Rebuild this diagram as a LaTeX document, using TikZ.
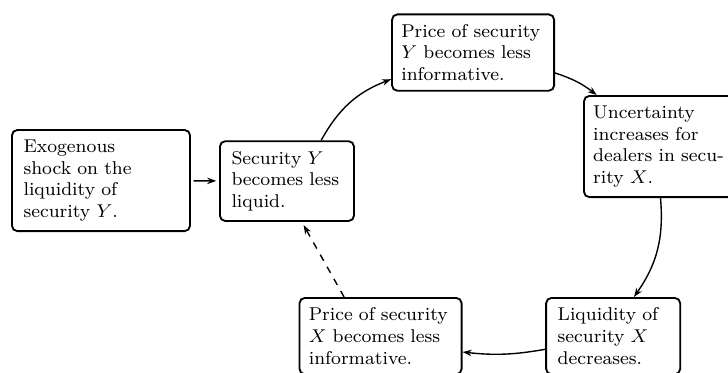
\documentclass[tikz,border=0pt]{standalone}
\usetikzlibrary{arrows.meta}
\tikzset{
        box/.style={draw=black, line width=0.8pt, rounded corners=2.3pt, align=left, inner xsep=5pt, inner ysep=4.3pt, font=\fontsize{8}{9.33}\selectfont},
        widebox/.style={box, text width=62pt, inner xsep=4pt},
        narrowbox/.style={box, text width=47.9pt},
        shockbox/.style={box, text width=66.9pt},
        link/.style={-{Stealth[length=3.9pt,width=2.8pt]}, line width=0.6pt},
        weaklink/.style={link, dashed},
        short/.style={shorten <=1.2pt, shorten >=1.2pt}
          }
\begin{document}
\begin{tikzpicture}[x=0.7775pt, y=0.7775pt]
        \useasboundingbox (0,0) rectangle (404.4,206.7);
        \node[shockbox] (shock) at (56.1,106.4) {Exogenous\\ shock on the\\ liquidity of\\ security $Y$.};
        \node[narrowbox] (liqY) at (159.4,106.1) {Security $Y$\\ becomes less\\ liquid.};
        \node[widebox] (infoY) at (262.8,177.5) {Price of security\\ $Y$ becomes less\\ informative.};
        \node[widebox] (risk) at (369.4,125.3) {Uncertainty\\ increases for\\ dealers in secu-\\ rity $X$.};
        \node[narrowbox] (liqX) at (340.6,20) {Liquidity of\\ security $X$\\ decreases.};
        \node[widebox] (infoX) at (211.4,20) {Price of security\\ $X$ becomes less\\ informative.};
        \draw[link, short] (shock) -- (liqY);
        \draw[link] (liqY.50) to[bend left=20] (infoY.198);
        \draw[link] (infoY.-14) to[bend left=10] (risk.143);
        \draw[link] (risk.265) to[bend left=20] (liqX.62);
        \draw[link] (liqX.191) to[bend left=8] (infoX.349);
        \draw[weaklink, shorten >=1.6pt] (infoX.133) -- (liqY.290);
      \end{tikzpicture}
\end{document}
